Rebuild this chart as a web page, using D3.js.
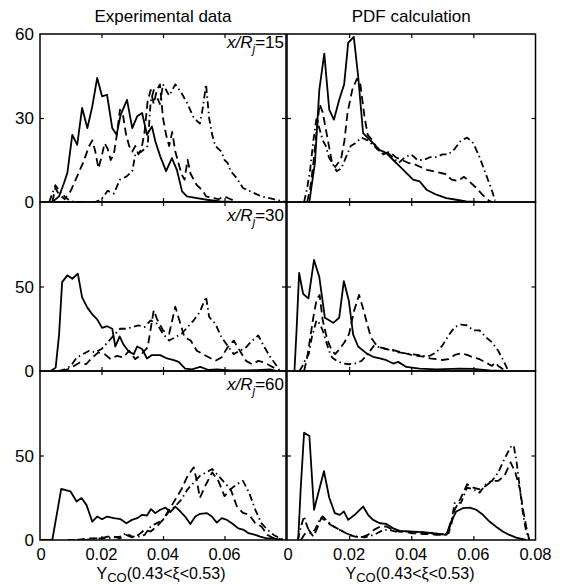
<!DOCTYPE html>
<html><head><meta charset="utf-8">
<script src="https://cdn.jsdelivr.net/npm/d3@7"></script>
<style>
body{margin:0;background:#fff}
svg{display:block}
text{font-family:"Liberation Sans",Arial,Helvetica,sans-serif;fill:#000}
</style>
</head><body>
<svg id="chart" width="565" height="584"></svg>
<script>
// ---------- data ----------
const columnTitles = ["Experimental data", "PDF calculation"];
const stations = ["15", "30", "60"];
const xTickValues = [0, 0.02, 0.04, 0.06, 0.08];
const xTickLabelsLeft = ["0", "0.02", "0.04", "0.06"];
const xTickLabelsRight = ["0", "0.02", "0.04", "0.06", "0.08"];
const yMaxByRow = [60, 100, 100];
const yInnerTicks = [[30], [50], [50]];
const yTickLabels = [["0", "30", "60"], ["0", "50"], ["0", "50"]];
const yTickLabelValues = [[0, 30, 60], [0, 50], [0, 50]];

// x/Rj = 15, experimental
const exp15Solid = [[0.004,0],[0.0062,2],[0.0078,6.8],[0.0089,10.4],[0.0105,24],[0.0121,20.4],[0.0137,33.6],[0.0154,26.4],[0.017,34.1],[0.0186,44.3],[0.0202,37.7],[0.0218,38.3],[0.0235,26.4],[0.0249,24],[0.0262,31],[0.0283,36.5],[0.03,26.4],[0.0316,30.6],[0.0332,31.8],[0.0348,24],[0.0364,27],[0.0375,21.7],[0.0391,16.3],[0.041,11],[0.0429,15.7],[0.0445,11.5],[0.0462,3.8],[0.0478,2],[0.051,1.4],[0.0543,0.8],[0.0586,0.2],[0.063,0]];
const exp15Dashed = [[0.004,0],[0.005,5],[0.006,3],[0.008,1],[0.010,4],[0.012,9],[0.014,14],[0.016,20],[0.017,22],[0.018,18],[0.019,12],[0.020,16],[0.021,21],[0.022,19],[0.023,15],[0.024,17],[0.025,24],[0.026,33],[0.027,31],[0.028,24],[0.029,20],[0.030,18],[0.031,20],[0.032,17],[0.033,19],[0.034,25],[0.035,36],[0.036,40],[0.037,35],[0.038,40],[0.039,42],[0.040,30],[0.041,24],[0.042,20],[0.043,25],[0.044,18],[0.045,14],[0.046,10],[0.047,8],[0.048,15],[0.049,10],[0.050,8],[0.051,6],[0.052,5],[0.053,4],[0.054,2],[0.056,1.5],[0.058,1],[0.060,2],[0.062,1],[0.064,0]];
const exp15DashDot = [[0.003,0],[0.005,6],[0.007,3],[0.009,1],[0.011,0],[0.018,0],[0.020,1],[0.022,4],[0.024,3],[0.026,8],[0.028,9],[0.030,11],[0.031,17],[0.033,18],[0.035,20],[0.036,36],[0.037,40],[0.039,35],[0.040,42],[0.042,38],[0.044,42],[0.046,39],[0.048,35],[0.050,30],[0.052,28],[0.053,34],[0.054,42],[0.055,30],[0.056,24],[0.057,20],[0.059,18],[0.060,15],[0.061,14],[0.062,11],[0.064,8.5],[0.066,5],[0.068,4],[0.070,3],[0.072,2],[0.074,1.5],[0.076,1],[0.078,0.5],[0.080,0]];

// x/Rj = 15, PDF
const pdf15Solid = [[0.0072,0],[0.0079,5.6],[0.009,14],[0.0104,40],[0.012,53],[0.0136,33],[0.0151,29.4],[0.0168,36.5],[0.0184,42],[0.0197,56.8],[0.0215,59],[0.0229,45],[0.0245,24.6],[0.0261,22.8],[0.0277,21],[0.0299,18.5],[0.032,17.5],[0.0342,15],[0.0363,12.7],[0.0384,10.4],[0.0406,8],[0.0427,7.4],[0.0449,4.4],[0.0481,2.6],[0.0513,1.4],[0.0545,0.8],[0.0577,0.2],[0.062,0]];
const pdf15Dashed = [[0.0065,0],[0.0075,5],[0.0085,14],[0.0095,25],[0.0105,35],[0.0115,32],[0.0125,26],[0.0135,20],[0.0145,14],[0.0155,12.5],[0.0165,14],[0.0175,16],[0.0185,22],[0.0195,32],[0.021,40],[0.0225,44],[0.0235,43],[0.025,30],[0.026,24],[0.0275,22],[0.029,19],[0.031,17],[0.033,18],[0.035,16],[0.037,15],[0.039,14],[0.041,13.5],[0.043,12.5],[0.045,11.5],[0.047,11],[0.049,10.5],[0.051,10],[0.053,8],[0.055,7.5],[0.057,9],[0.059,7],[0.061,5],[0.063,2.5],[0.065,0.5],[0.066,0]];
const pdf15DashDot = [[0.0055,0],[0.0065,5],[0.0075,12],[0.0085,22],[0.0095,30],[0.0105,26],[0.0115,22],[0.0125,20],[0.0135,16],[0.0145,14],[0.016,11],[0.0175,12],[0.019,16],[0.0205,20],[0.022,21],[0.024,23],[0.026,22],[0.028,20],[0.030,18],[0.032,18],[0.034,16],[0.036,14],[0.038,16],[0.040,17],[0.042,15],[0.044,15],[0.046,16],[0.048,16],[0.050,17],[0.052,17],[0.054,19],[0.056,22],[0.058,23],[0.060,21],[0.062,16],[0.064,10],[0.066,4],[0.067,0.5]];

// x/Rj = 30, experimental
const exp30Solid = [[0.0035,0],[0.0051,2],[0.0062,21.5],[0.0072,52.6],[0.0089,56.6],[0.0105,54.6],[0.0123,57.6],[0.0137,43.6],[0.0154,37.5],[0.017,33.5],[0.0186,30.5],[0.0202,25.5],[0.0218,26.5],[0.0235,25],[0.0245,14.5],[0.0259,20.5],[0.0272,15.5],[0.0289,11.4],[0.0305,10],[0.0316,14.5],[0.0332,13],[0.0348,7.4],[0.0364,9.4],[0.0391,9.4],[0.0413,7.4],[0.0435,6.4],[0.0451,5.4],[0.0472,1.4],[0.0494,1],[0.0521,2.4],[0.0548,0.6],[0.0575,1],[0.0618,0.3],[0.0672,0.3],[0.0705,0.5],[0.0748,1],[0.077,0]];
const exp30Dashed = [[0.007,0],[0.009,1],[0.011,3],[0.013,5],[0.015,4],[0.017,8],[0.019,11],[0.021,10],[0.023,7],[0.025,9],[0.027,8],[0.029,12],[0.031,7],[0.033,10],[0.035,14],[0.037,36],[0.038,31],[0.040,24],[0.042,22],[0.044,38],[0.045,32],[0.047,20],[0.049,18],[0.051,12],[0.053,10],[0.055,8],[0.057,6],[0.059,8],[0.061,14],[0.063,18],[0.065,12],[0.067,6],[0.069,4],[0.071,6],[0.073,5],[0.075,3],[0.077,1],[0.078,0]];
const exp30DashDot = [[0.006,0],[0.008,1],[0.010,3],[0.012,8],[0.014,10],[0.016,12],[0.018,11],[0.020,13],[0.022,17],[0.024,21],[0.026,25],[0.028,25],[0.030,26],[0.032,27],[0.034,26],[0.036,30],[0.038,28],[0.040,22],[0.042,18],[0.044,20],[0.046,22],[0.048,26],[0.050,30],[0.052,35],[0.054,44],[0.055,32],[0.057,28],[0.059,20],[0.061,15],[0.063,10],[0.065,12],[0.067,14],[0.069,18],[0.071,21],[0.073,14],[0.075,8],[0.077,3],[0.078,0]];

// x/Rj = 30, PDF
const pdf30Solid = [[0.0024,0],[0.0031,25],[0.0039,58],[0.0052,45.6],[0.0069,43],[0.0087,65.7],[0.0104,55.6],[0.0122,31.5],[0.0149,28.5],[0.0168,31.5],[0.0183,53.2],[0.0199,41.6],[0.0213,21.5],[0.0229,14.5],[0.0256,10.4],[0.0277,8.4],[0.0299,7.4],[0.032,6.4],[0.0342,4.4],[0.0358,5.4],[0.0384,2.4],[0.0427,1.4],[0.0481,1],[0.0556,1.4],[0.0599,1.2],[0.0652,0.4],[0.0706,0]];
const pdf30Dashed = [[0.0055,0],[0.0065,8],[0.0075,20],[0.0085,32],[0.0095,42],[0.0105,45],[0.0115,30],[0.0125,22],[0.0135,16],[0.0145,12],[0.0155,10],[0.0165,12],[0.0185,17],[0.020,22],[0.0215,35],[0.0232,45],[0.0245,37],[0.0255,30],[0.027,20],[0.0285,16],[0.030,14],[0.032,13],[0.034,12.5],[0.036,11.5],[0.038,10.5],[0.040,9.5],[0.042,9],[0.044,8.5],[0.046,7.5],[0.048,7],[0.050,6.5],[0.052,7],[0.054,9.5],[0.056,10.5],[0.058,9.5],[0.060,8],[0.062,7],[0.064,5],[0.066,3],[0.067,5],[0.068,3],[0.070,0.5],[0.071,0]];
const pdf30DashDot = [[0.004,0],[0.005,3],[0.006,7],[0.007,10],[0.008,20],[0.0095,30],[0.0105,28],[0.0115,24],[0.0125,18],[0.0135,12],[0.0145,8],[0.016,6],[0.018,4.5],[0.020,4],[0.022,4.5],[0.024,6],[0.026,10],[0.028,15],[0.030,14],[0.032,13],[0.034,12],[0.036,11],[0.038,10.5],[0.040,10],[0.042,9.5],[0.044,9],[0.046,9],[0.048,11],[0.050,15],[0.052,21],[0.054,26],[0.056,27.5],[0.058,27],[0.060,24],[0.062,24],[0.064,20],[0.066,17],[0.068,12],[0.070,5],[0.071,1],[0.072,0]];

// x/Rj = 60, experimental
const exp60Solid = [[0,0],[0.004,0],[0.0069,30.2],[0.0099,28.8],[0.0119,22.8],[0.0135,24.8],[0.0151,20.8],[0.017,10.9],[0.0186,13.9],[0.0202,12.3],[0.0218,13.9],[0.024,12.9],[0.0262,12.3],[0.0281,9.9],[0.0299,11.9],[0.0316,12.9],[0.0332,14.9],[0.0348,14.5],[0.0361,18.3],[0.0375,15.9],[0.0391,17.9],[0.0408,19.2],[0.0424,16.5],[0.044,19.8],[0.0456,16.9],[0.0472,13.9],[0.0489,9.5],[0.0505,13.9],[0.0521,15.5],[0.0543,15.9],[0.0559,13.9],[0.0575,10.3],[0.0591,12.9],[0.0608,11.9],[0.0624,9.9],[0.0645,6.9],[0.0662,6],[0.0678,4],[0.07,3],[0.0716,2],[0.0737,1],[0.0759,1],[0.0786,0]];
const exp60Dashed = [[0.012,0],[0.016,1],[0.020,1],[0.022,2],[0.024,2],[0.026,1],[0.028,3],[0.030,1.5],[0.032,3],[0.034,6],[0.036,5],[0.038,8],[0.040,12],[0.042,18],[0.044,24],[0.046,30],[0.048,38],[0.050,43],[0.051,35],[0.052,25],[0.054,33],[0.056,40],[0.058,35],[0.060,26],[0.062,30],[0.064,20],[0.066,16],[0.068,15],[0.070,10],[0.072,8],[0.074,3],[0.076,1],[0.078,0.5],[0.079,0]];
const exp60DashDot = [[0.009,0],[0.015,0],[0.018,1],[0.022,1],[0.026,2],[0.028,4],[0.030,2],[0.032,2],[0.034,3],[0.036,8],[0.038,10],[0.040,12],[0.042,17],[0.044,20],[0.046,24],[0.048,30],[0.050,34],[0.052,38],[0.054,40],[0.056,42],[0.058,38],[0.060,34],[0.062,30],[0.064,33],[0.066,35],[0.068,28],[0.070,18],[0.072,10],[0.074,6],[0.076,3],[0.078,1],[0.080,0]];

// x/Rj = 60, PDF
const pdf60Solid = [[0.0036,0],[0.0044,30],[0.0055,63.5],[0.0072,61.5],[0.0087,17.9],[0.0101,28],[0.0119,40.7],[0.0136,25],[0.0154,15.9],[0.017,14.9],[0.0183,16.9],[0.0197,11.9],[0.0218,14.9],[0.0245,19.8],[0.0261,14.9],[0.0277,11.9],[0.0299,9.9],[0.032,9.5],[0.0342,6.9],[0.0363,5.4],[0.0406,5],[0.0438,4.6],[0.047,4],[0.0513,3],[0.0526,10],[0.0545,16.9],[0.0566,18.8],[0.0588,19.2],[0.0609,17.9],[0.0631,14.9],[0.0652,10.9],[0.0673,7.9],[0.0695,5],[0.0716,3],[0.0738,1.4],[0.077,0]];
const pdf60Dashed = [[0.0045,0],[0.0055,3],[0.007,6],[0.0085,2],[0.010,8],[0.011,13],[0.012,12],[0.014,9],[0.016,7],[0.018,5],[0.020,3],[0.022,2],[0.024,1.5],[0.026,3],[0.028,6],[0.030,8],[0.032,8],[0.034,6],[0.036,5],[0.038,5],[0.040,4],[0.042,4],[0.044,3.5],[0.046,3.5],[0.048,3],[0.050,3],[0.052,4],[0.053,10],[0.054,18],[0.056,25],[0.058,33],[0.060,31],[0.062,30],[0.064,32],[0.066,35],[0.068,35],[0.070,38],[0.072,46],[0.0735,40],[0.075,30],[0.076,18],[0.077,8],[0.078,0]];
const pdf60DashDot = [[0.0035,0],[0.0045,8],[0.0055,14],[0.0065,8],[0.0075,4],[0.009,6],[0.0105,12],[0.0115,14],[0.013,11],[0.015,8],[0.017,6],[0.019,4],[0.021,2.5],[0.023,2],[0.025,1.5],[0.027,2.5],[0.029,4],[0.031,6],[0.033,6],[0.035,5],[0.037,5],[0.039,5],[0.041,4.5],[0.043,4.5],[0.045,4],[0.047,4],[0.049,3.5],[0.051,3.5],[0.052,5],[0.053,12],[0.054,22],[0.056,22],[0.058,31],[0.060,30],[0.062,28],[0.064,33],[0.066,35],[0.068,40],[0.070,48],[0.072,55],[0.073,56],[0.074,45],[0.075,30],[0.076,15],[0.077,5],[0.078,0]];

const panelSeries = [
  [[exp15Solid, exp15Dashed, exp15DashDot], [pdf15Solid, pdf15Dashed, pdf15DashDot]],
  [[exp30Solid, exp30Dashed, exp30DashDot], [pdf30Solid, pdf30Dashed, pdf30DashDot]],
  [[exp60Solid, exp60Dashed, exp60DashDot], [pdf60Solid, pdf60Dashed, pdf60DashDot]]
];

// ---------- layout ----------
const colX = [[40, 286], [287, 535.5]];
const rowY = [[34, 202], [202, 371], [371, 540]];
const dashStyles = [null, "8,4.5", "7,3.5,1.5,3.5"];
const svg = d3.select("#chart");
const xDomain = [0, 0.08];

// titles
columnTitles.forEach((t, c) => {
  svg.append("text").attr("x", (colX[c][0] + colX[c][1]) / 2).attr("y", 21.5)
    .attr("text-anchor", "middle").attr("font-size", 17).text(t);
});

for (let r = 0; r < 3; r++) {
  for (let c = 0; c < 2; c++) {
    const x = d3.scaleLinear().domain(xDomain).range(colX[c]);
    const y = d3.scaleLinear().domain([0, yMaxByRow[r]]).range([rowY[r][1], rowY[r][0]]);
    const g = svg.append("g");
    const clipId = "clip" + r + c;
    g.append("clipPath").attr("id", clipId).append("rect")
      .attr("x", colX[c][0]).attr("y", rowY[r][0] - 1)
      .attr("width", colX[c][1] - colX[c][0]).attr("height", rowY[r][1] - rowY[r][0] + 1);

    const line = d3.line().x(d => x(d[0])).y(d => y(d[1]));
    panelSeries[r][c].forEach((s, i) => {
      g.append("path").datum(s).attr("d", line)
        .attr("clip-path", `url(#${clipId})`)
        .attr("fill", "none").attr("stroke", "#000")
        .attr("stroke-width", 1.8).attr("stroke-linejoin", "round")
        .attr("stroke-dasharray", dashStyles[i]);
    });

    // inward ticks via axes
    const tickLen = 4;
    const innerX = xTickValues.filter(v => v > 0 && v < 0.08);
    g.append("g").attr("transform", `translate(0,${rowY[r][1]})`)
      .call(d3.axisBottom(x).tickValues(innerX).tickSizeInner(-tickLen).tickSizeOuter(0).tickFormat(""))
      .call(a => a.select(".domain").remove());
    g.append("g").attr("transform", `translate(0,${rowY[r][0]})`)
      .call(d3.axisTop(x).tickValues(innerX).tickSizeInner(-tickLen).tickSizeOuter(0).tickFormat(""))
      .call(a => a.select(".domain").remove());
    g.append("g").attr("transform", `translate(${colX[c][0]},0)`)
      .call(d3.axisLeft(y).tickValues(yInnerTicks[r]).tickSizeInner(-tickLen).tickSizeOuter(0).tickFormat(""))
      .call(a => a.select(".domain").remove());
    g.append("g").attr("transform", `translate(${colX[c][1]},0)`)
      .call(d3.axisRight(y).tickValues(yInnerTicks[r]).tickSizeInner(-tickLen).tickSizeOuter(0).tickFormat(""))
      .call(a => a.select(".domain").remove());
    g.selectAll(".tick line").attr("stroke", "#000").attr("stroke-width", 1.2);

    // frame
    g.append("rect").attr("x", colX[c][0]).attr("y", rowY[r][0])
      .attr("width", colX[c][1] - colX[c][0]).attr("height", rowY[r][1] - rowY[r][0])
      .attr("fill", "none").attr("stroke", "#000").attr("stroke-width", 1.5);

    // y tick labels (left column only)
    if (c === 0) {
      yTickLabelValues[r].forEach((v, k) => {
        svg.append("text").attr("x", 34).attr("y", y(v)).attr("dy", "0.36em")
          .attr("text-anchor", "end").attr("font-size", 17).text(yTickLabels[r][k]);
      });
      // station label
      const lbl = svg.append("text").attr("x", 284).attr("y", r === 0 ? 48 : rowY[r][0] + 19)
        .attr("text-anchor", "end").attr("font-size", 17);
      lbl.append("tspan").attr("font-style", "italic").text("x/R");
      lbl.append("tspan").attr("font-style", "italic").attr("font-size", 12).attr("dy", 5).text("j");
      lbl.append("tspan").attr("dy", -5).text("=" + stations[r]);
    }

    // x tick labels + axis title on bottom row
    if (r === 2) {
      const labels = c === 0 ? xTickLabelsLeft : xTickLabelsRight;
      labels.forEach((t, k) => {
        svg.append("text").attr("x", x(xTickValues[k]) + (k === 0 ? 1 : 0)).attr("y", 560)
          .attr("text-anchor", "middle").attr("font-size", 16.5).text(t);
      });
      const at = svg.append("text").attr("x", c === 0 ? 161 : 410).attr("y", 579)
        .attr("text-anchor", "middle").attr("font-size", 16);
      at.append("tspan").text("Y");
      at.append("tspan").attr("dy", 3).attr("font-size", 13).text("CO");
      at.append("tspan").attr("dy", -3).text("(0.43<ξ<0.53)");
    }
  }
}
</script>
</body></html>
